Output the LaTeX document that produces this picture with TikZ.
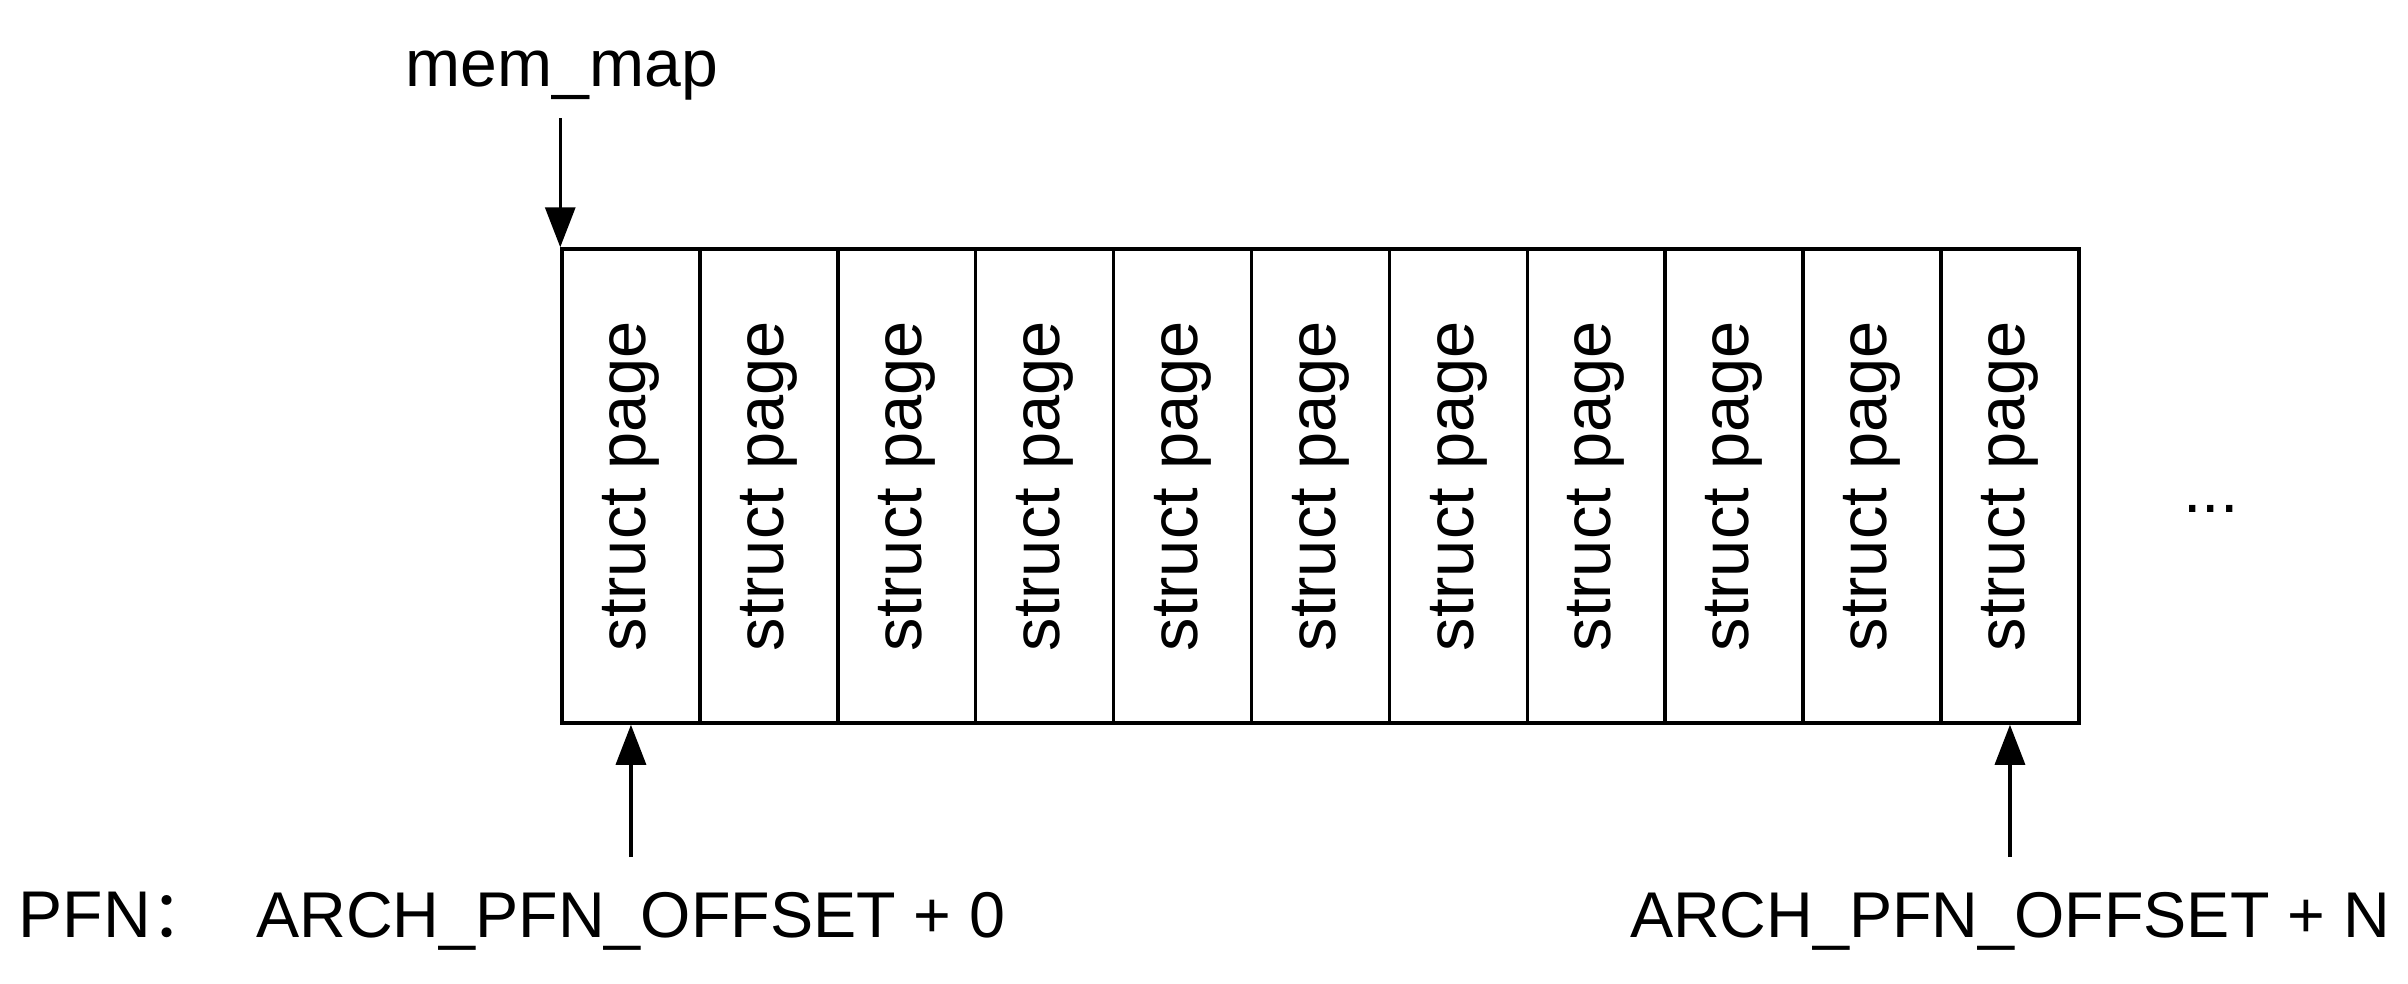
\documentclass[tikz,border=0pt]{standalone}
\usepackage{fontspec}
\setmainfont{Liberation Sans}
\newfontfamily\cjk{Noto Sans CJK SC}
\usetikzlibrary{arrows.meta}

\begin{document}
\begin{tikzpicture}[x=0.1mm, y=-0.1mm,
  cell/.style={draw, line width=0.35mm, rotate=90, minimum width=47.4mm, minimum height=13.79mm, inner sep=0pt, font=\fontsize{19}{22}\selectfont},
  lbl/.style={inner sep=0pt, font=\fontsize{18.8}{22}\selectfont},
  ptr/.style={-{Triangle[length=4mm, width=3mm]}, line width=0.33mm}]
  \useasboundingbox (0,0) rectangle (2408,983);
  % the mem_map array
  \foreach \i in {1,...,11}
    \node[cell] (page\i) at ({562+137.9*(\i-0.5)}, 486) {struct page};
  \node[lbl, anchor=base] (dots) at (2211,512) {...};
  % pointer into the array
  \node[lbl, anchor=base] (memmap) at (562,86) {mem\_map};
  \draw[ptr, shorten <=1.8mm] (memmap.south -| page1.north east) -- (page1.north east);
  % page frame numbers
  \node[lbl, anchor=base west] (pfn) at (18,937) {PFN{\cjk ：}};
  \node[lbl, anchor=base, font=\fontsize{18.4}{22}\selectfont] (pfn0) at (631,937) {ARCH\_PFN\_OFFSET + 0};
  \node[lbl, anchor=base, font=\fontsize{18.4}{22}\selectfont] (pfnN) at (2010,937) {ARCH\_PFN\_OFFSET + N};
  \draw[ptr, shorten <=3.4mm] (pfn0.north -| page1.west) -- (page1.west);
  \draw[ptr, shorten <=3.4mm] (pfnN.north -| page11.west) -- (page11.west);
\end{tikzpicture}
\end{document}
